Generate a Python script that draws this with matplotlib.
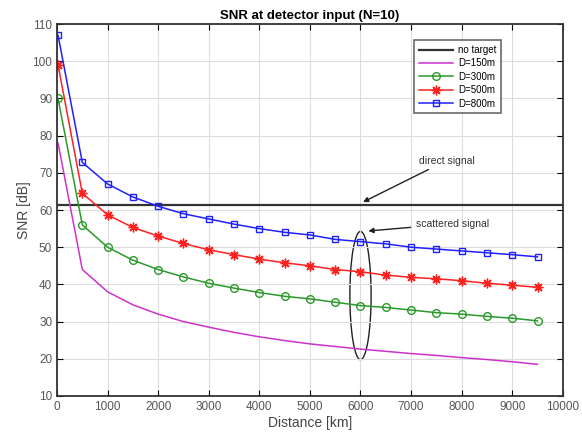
import numpy as np
import matplotlib.pyplot as plt
from matplotlib.patches import Ellipse

plt.rcParams['font.family'] = ['Liberation Sans', 'DejaVu Sans']

# distances [km]
dist = [20, 500, 1000, 1500, 2000, 2500, 3000, 3500, 4000, 4500,
        5000, 5500, 6000, 6500, 7000, 7500, 8000, 8500, 9000, 9500]

no_target = 61.3

snr_150 = [78, 44, 38, 34.5, 32, 30, 28.5, 27.1, 25.9, 24.9,
           24.0, 23.3, 22.6, 22.0, 21.4, 20.9, 20.3, 19.8, 19.2, 18.5]
snr_300 = [90, 56, 50, 46.5, 44, 42, 40.3, 39, 37.8, 36.8,
           36.1, 35.2, 34.3, 33.8, 33.1, 32.4, 32.0, 31.4, 30.9, 30.2]
snr_500 = [99, 64.5, 58.7, 55.3, 53, 51, 49.3, 48, 46.8, 45.8,
           45.0, 44.0, 43.4, 42.5, 41.9, 41.5, 41.0, 40.3, 39.8, 39.2]
snr_800 = [107, 72.8, 67, 63.5, 61, 59, 57.6, 56.2, 55.0, 54.0,
           53.3, 52.1, 51.5, 50.9, 50.0, 49.5, 49.0, 48.5, 48.0, 47.4]

fig = plt.figure(figsize=(5.82, 4.38), dpi=100)
ax = fig.add_axes([0.098, 0.096, 0.869, 0.849])

ax.plot([0, 10000], [no_target, no_target], color='#333333', lw=1.6, label='no target')
ax.plot(dist, snr_150, color='#cc33cc', lw=1.1, label='D=150m')
ax.plot(dist, snr_300, color='#2a9a2a', lw=1.1, marker='o', ms=5.5,
        mfc='none', mew=1.0, label='D=300m')
# matlab style asterisk
ax.plot(dist, snr_500, color='#ff2020', lw=1.1, marker=(8, 2, 0), ms=7,
        mew=1.0, label='D=500m')
ax.plot(dist, snr_800, color='#2020ff', lw=1.1, marker='s', ms=5,
        mfc='none', mew=1.0, label='D=800m')

ax.set_xlim(0, 10000)
ax.set_ylim(10, 110)
ax.set_xticks(np.arange(0, 10001, 1000))
ax.set_yticks(np.arange(10, 111, 10))
ax.grid(True, color='#dddddd', lw=0.8)
ax.tick_params(direction='in', top=True, right=True, labelsize=8.5,
               labelcolor='#555555', length=4)
for s in ax.spines.values():
    s.set_linewidth(1.3)
    s.set_color('#333333')

ax.set_xlabel('Distance [km]', fontsize=10, color='#444444', labelpad=2)
ax.set_ylabel('SNR [dB]', fontsize=10, color='#444444', labelpad=1)
ax.set_title('SNR at detector input (N=10)', fontsize=9.5, fontweight='bold', pad=4)

leg = ax.legend(loc='upper right', bbox_to_anchor=(0.888, 0.97), fontsize=7,
                frameon=True, fancybox=False, edgecolor='#444444',
                handlelength=3.5, borderpad=0.5, labelspacing=0.35, handletextpad=0.5)
leg.get_frame().set_linewidth(1.2)

ax.annotate('direct signal', xy=(6000, 61.8), xytext=(7150, 72.5),
            fontsize=7.5, color='#333333',
            arrowprops=dict(arrowstyle='-|>', color='#222222', lw=1.0))
ax.annotate('scattered signal', xy=(6100, 54.3), xytext=(7100, 55.5),
            fontsize=7.5, color='#333333',
            arrowprops=dict(arrowstyle='-|>', color='#222222', lw=1.0))
ax.add_patch(Ellipse((6000, 37), 420, 34.5, fill=False, ec='#222222', lw=1.0))

fig.savefig('out.png', dpi=100)
